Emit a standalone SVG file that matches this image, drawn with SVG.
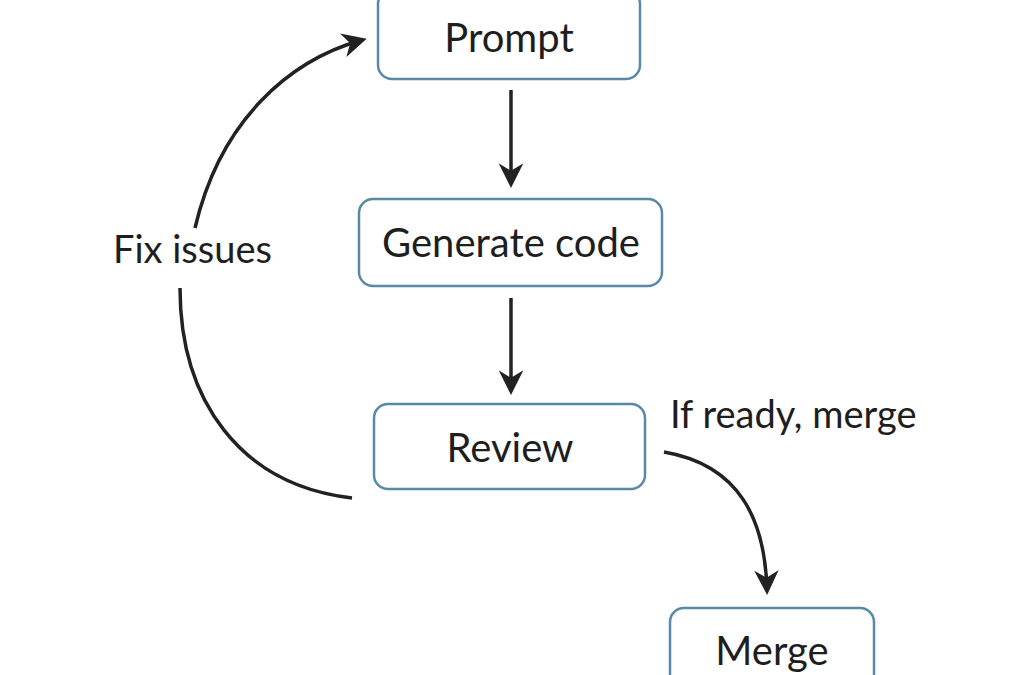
<svg xmlns="http://www.w3.org/2000/svg" width="1022" height="675" viewBox="0 0 1022 675">
<style>
.n{fill:#fff;stroke:#5a89a8;stroke-width:2.5}
.t{font-family:Lato,"Open Sans",sans-serif;font-size:40px;fill:#1e1e1e;text-anchor:middle}
.l{font-family:Lato,"Open Sans",sans-serif;font-size:38px;fill:#1e1e1e}
.c{fill:none;stroke:#222;stroke-width:3.5}
</style>
<defs><marker id="a" viewBox="0 0 10 10" refX="8" refY="5" markerWidth="7" markerHeight="7" orient="auto" markerUnits="strokeWidth"><path d="M0,0 L10,5 L0,10 L3,5 z" fill="#222"/></marker></defs>
<rect width="1022" height="675" fill="#fff"/>
<g id="prompt"><rect class="n" x="378" y="-10" width="262" height="89" rx="14"/><text class="t" x="509" y="52">Prompt</text></g>
<g id="generate"><rect class="n" x="359" y="199" width="303" height="87" rx="14"/><text class="t" x="511" y="257">Generate code</text></g>
<g id="review"><rect class="n" x="374" y="404" width="271" height="85" rx="14"/><text class="t" x="510" y="462">Review</text></g>
<g id="merge"><rect class="n" x="670" y="608" width="204" height="90" rx="14"/><text class="t" x="772" y="665">Merge</text></g>
<g id="connectors">
<path class="c" d="M511,90 L511,183" marker-end="url(#a)"/>
<path class="c" d="M511,298 L511,390" marker-end="url(#a)"/>
<path class="c" d="M352,498 C240,485 180,400 180,288"/>
<path class="c" d="M195,228 C220,120 290,60 362,40" marker-end="url(#a)"/>
<path class="c" d="M664,452 C740,465 765,520 767,590" marker-end="url(#a)"/>
<text class="l" x="113" y="263">Fix issues</text>
<text class="l" x="670" y="428">If ready, merge</text>
</g>
</svg>
